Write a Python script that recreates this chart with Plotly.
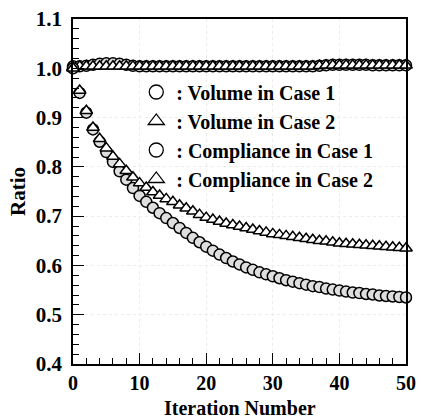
import plotly.graph_objects as go

iterations = list(range(51))

volume_case1 = [1.004, 1.004, 1.005, 1.007, 1.009, 1.010, 1.010, 1.009, 1.007, 1.005,
                1.004, 1.004, 1.004, 1.004, 1.004, 1.004, 1.004, 1.004, 1.004, 1.004,
                1.004, 1.004, 1.004, 1.004, 1.004, 1.004, 1.004, 1.004, 1.004, 1.004,
                1.004, 1.004, 1.004, 1.004, 1.004, 1.004, 1.004, 1.005, 1.006, 1.007,
                1.007, 1.007, 1.007, 1.007, 1.007, 1.006, 1.006, 1.006, 1.006, 1.006, 1.006]
volume_case2 = [1.002, 1.004, 1.004, 1.004, 1.004, 1.004, 1.004, 1.004, 1.004, 1.004,
                1.004, 1.004, 1.004, 1.004, 1.004, 1.004, 1.004, 1.004, 1.004, 1.004,
                1.004, 1.004, 1.004, 1.004, 1.004, 1.004, 1.004, 1.004, 1.004, 1.004,
                1.004, 1.004, 1.004, 1.004, 1.004, 1.004, 1.004, 1.005, 1.006, 1.006,
                1.006, 1.006, 1.006, 1.006, 1.006, 1.006, 1.006, 1.006, 1.006, 1.006, 1.006]
compliance_case1 = [1.000, 0.950, 0.910, 0.876, 0.851, 0.830, 0.810, 0.791, 0.774, 0.757,
                    0.741, 0.729, 0.717, 0.706, 0.696, 0.686, 0.676, 0.666, 0.656, 0.647,
                    0.638, 0.630, 0.622, 0.615, 0.608, 0.602, 0.596, 0.591, 0.586, 0.582,
                    0.578, 0.574, 0.570, 0.567, 0.564, 0.561, 0.558, 0.556, 0.553, 0.551,
                    0.549, 0.547, 0.545, 0.544, 0.542, 0.541, 0.539, 0.538, 0.537, 0.536, 0.535]
compliance_case2 = [1.000, 0.955, 0.914, 0.880, 0.857, 0.838, 0.821, 0.806, 0.792, 0.779,
                    0.767, 0.758, 0.749, 0.742, 0.735, 0.729, 0.722, 0.716, 0.710, 0.703,
                    0.697, 0.693, 0.689, 0.685, 0.682, 0.679, 0.676, 0.673, 0.670, 0.667,
                    0.664, 0.662, 0.660, 0.658, 0.656, 0.654, 0.652, 0.650, 0.649, 0.647,
                    0.645, 0.644, 0.643, 0.642, 0.641, 0.640, 0.639, 0.638, 0.637, 0.636, 0.635]

legend_labels = [": Volume in Case 1", ": Volume in Case 2",
                 ": Compliance in Case 1", ": Compliance in Case 2"]
x_ticks = [0, 10, 20, 30, 40, 50]
y_ticks = [0.4, 0.5, 0.6, 0.7, 0.8, 0.9, 1.0, 1.1]
x_title = "Iteration Number"
y_title = "Ratio"

FONT = "Liberation Serif"
FS = 21
circle_style = dict(symbol="circle", size=11, color="#dedede", line=dict(color="black", width=1.5))
tri_style = dict(symbol="triangle-up", size=11, color="white", line=dict(color="black", width=1.5))

fig = go.Figure()
series = [
    (volume_case1, circle_style),
    (volume_case2, tri_style),
    (compliance_case1, circle_style),
    (compliance_case2, tri_style),
]
for ys, st in series:
    fig.add_trace(go.Scatter(x=iterations, y=ys, mode="markers", marker=st,
                             showlegend=False, cliponaxis=False))

legend_symbols = ["circle-open", "triangle-up-open", "circle-open", "triangle-up-open"]
for i, (lab, sym) in enumerate(zip(legend_labels, legend_symbols)):
    fig.add_trace(go.Scatter(x=[None], y=[None], mode="markers", name=lab,
                             legendgroup=str(i),
                             marker=dict(symbol=sym, size=14, color="black",
                                         line=dict(color="black", width=1.3))))

axis_common = dict(showline=True, linecolor="black", linewidth=1.5, mirror=True,
                   ticks="inside", tickcolor="black", tickwidth=1.2, ticklen=11,
                   zeroline=False, showgrid=True, gridcolor="#ececec", griddash="dot",
                   gridwidth=1, automargin=False)

fig.update_xaxes(range=[0, 50], tickvals=x_ticks, ticktext=[str(v) for v in x_ticks],
                 tickfont=dict(family=FONT, size=20, color="black", weight="bold"),
                 minor=dict(dtick=2, tick0=0, ticks="inside", ticklen=6, tickcolor="black",
                            tickwidth=1.2, showgrid=False),
                 **axis_common)
fig.update_yaxes(range=[0.4, 1.1], tickvals=y_ticks,
                 ticktext=["%.1f" % v for v in y_ticks],
                 tickfont=dict(family=FONT, size=FS, color="black", weight="bold"),
                 ticklabelstandoff=5,
                 minor=dict(dtick=0.02, tick0=0.4, ticks="inside", ticklen=6, tickcolor="black",
                            tickwidth=1.2, showgrid=False),
                 title=dict(text=y_title, standoff=4,
                            font=dict(family=FONT, size=FS, color="black", weight="bold")),
                 **axis_common)

fig.add_annotation(text=x_title, xref="paper", yref="paper", x=0.5, y=-0.127,
                   xanchor="center", yanchor="middle", showarrow=False,
                   font=dict(family=FONT, size=20, color="black", weight="bold"))

fig.update_layout(
    width=422, height=419,
    margin=dict(l=73, r=16, t=19, b=55),
    paper_bgcolor="white", plot_bgcolor="white",
    font=dict(family=FONT, size=FS, color="black"),
    legend=dict(x=0.19, y=0.845, xanchor="left", yanchor="top",
                bgcolor="rgba(0,0,0,0)", borderwidth=0, tracegroupgap=0,
                font=dict(family=FONT, size=20, color="black", weight="bold"),
                itemwidth=30),
)

fig.write_html("out.html")
